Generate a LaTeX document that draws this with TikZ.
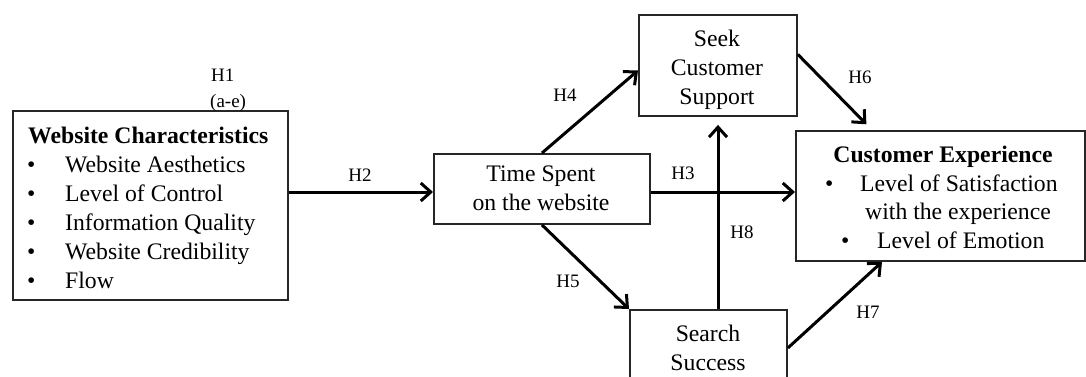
\documentclass[tikz,border=0pt]{standalone}
\usepackage{fontspec}
\setmainfont{Liberation Serif}
\usetikzlibrary{arrows.meta,calc}
\begin{document}
\begin{tikzpicture}[x=1pt,y=-1pt,
  boxnode/.style={draw=black!85, line width=1.9pt, inner sep=0pt, anchor=north west},
  arr/.style={line width=3pt, -{Straight Barb[length=10pt,width=18pt,line width=3pt]}},
  txt/.style={inner sep=0pt, font=\fontsize{23.7}{29}\selectfont, anchor=base west},
  ctxt/.style={inner sep=0pt, font=\fontsize{23.7}{29}\selectfont, anchor=base},
  lbl/.style={inner sep=0pt, font=\fontsize{19}{23}\selectfont}
]
\clip (0,0) rectangle (1086,376);
\useasboundingbox (0,0) rectangle (1086,376);

% boxes
\node[boxnode, minimum width=275pt, minimum height=189pt] (wc) at (12,110) {};
\node[boxnode, minimum width=216pt, minimum height=70pt] (ts) at (433,153) {};
\node[boxnode, minimum width=158pt, minimum height=101pt] (seek) at (638,14) {};
\node[boxnode, minimum width=289pt, minimum height=130pt] (ce) at (795,130) {};
\node[boxnode, minimum width=157pt, minimum height=76pt] (search) at (629,309) {};

% Website Characteristics
\node[txt] (wct) at (28,143) {\bfseries Website Characteristics};
\foreach \t [count=\i] in {Website Aesthetics, Level of Control, Information Quality, Website Credibility, Flow}{
  \node[txt] (wcb\i) at (27,{143+29*\i}) {•};
  \node[txt] (wci\i) at (65,{143+29*\i}) {\t};
}

% Time Spent
\node[ctxt] (ts1) at (541,181) {Time Spent};
\node[ctxt] (ts2) at (541,210) {on the website};

% Seek Customer Support
\node[ctxt] (sk1) at (717,46) {Seek};
\node[ctxt] (sk2) at (717,75) {Customer};
\node[ctxt] (sk3) at (717,104) {Support};

% Customer Experience
\node[ctxt] (cet) at (943,162) {\bfseries Customer Experience};
\node[txt] (ceb1) at (825,191) {•};
\node[txt] (cei1) at (860,191) {Level of Satisfaction};
\node[txt] (cei1b) at (865,219.5) {with the experience};
\node[txt] (ceb2) at (841,248) {•};
\node[txt] (cei2) at (877,248) {Level of Emotion};

% Search Success
\node[ctxt] (ss1) at (708,341) {Search};
\node[ctxt] (ss2) at (708,370) {Success};

% connectors
\coordinate (ymid) at (0,192);
\coordinate (xvert) at (718,0);
\draw[arr] (wc.east |- ymid) -- (ts.west |- ymid);
\draw[arr] (ts.east |- ymid) -- (ce.west |- ymid);
\draw[arr] (ts.north) -- ([yshift=-5pt]seek.west);
\draw[arr] (ts.south) -- (search.north west);
\draw[arr, shorten >=8pt] (search.north -| xvert) -- (seek.south -| xvert);
\draw[arr] (search.east) -- ([xshift=87pt]ce.south west);
\draw[arr, shorten >=8pt] ([yshift=11pt]seek.east) -- ([xshift=77pt]ce.north west);

% hypothesis labels
\node[lbl, anchor=base west] (h1) at (211,81) {H1};
\node[lbl, anchor=base west] (h1s) at (210,107) {(a-e)};
\node[lbl] (h2) at (360,175) {H2};
\node[lbl] (h3) at (683,173) {H3};
\node[lbl] (h4) at (565,95) {H4};
\node[lbl] (h5) at (568,281) {H5};
\node[lbl] (h6) at (860,77) {H6};
\node[lbl] (h7) at (868,312) {H7};
\node[lbl] (h8) at (742,232) {H8};
\end{tikzpicture}
\end{document}
